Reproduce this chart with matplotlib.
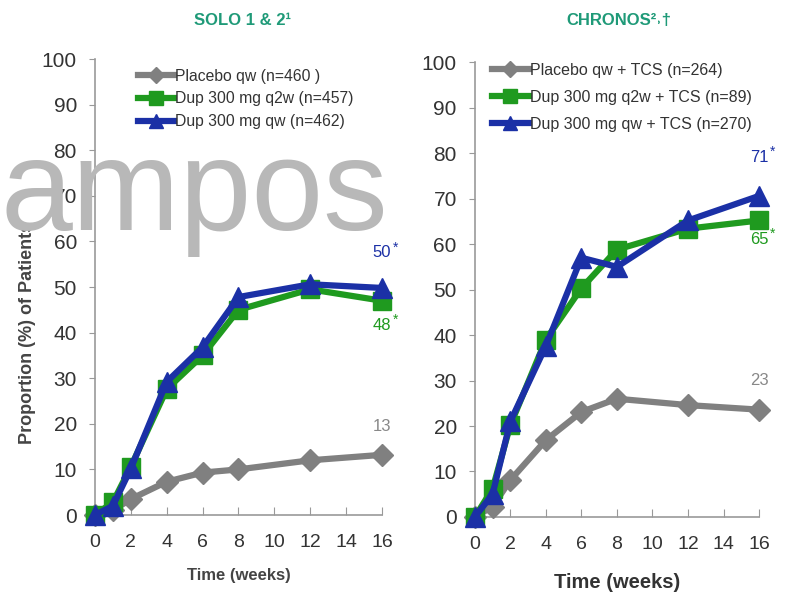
import matplotlib
matplotlib.use("Agg")
import matplotlib.pyplot as plt

plt.rcParams['font.family'] = ['Liberation Sans Narrow', 'Liberation Sans', 'DejaVu Sans']

# dados
semanas = [0, 1, 2, 4, 6, 8, 12, 16]

solo_placebo = [0, 1, 3.5, 7.3, 9.3, 10, 12, 13.2]
solo_q2w = [0, 2.8, 10.6, 27.6, 35, 45, 49.5, 47]
solo_qw = [0, 2, 10.2, 29.2, 36.8, 47.8, 50.6, 49.8]

chronos_placebo = [0, 2.3, 8.1, 16.9, 23.1, 26, 24.6, 23.6]
chronos_q2w = [0, 6.2, 20.2, 39, 50.3, 58.8, 63.4, 65.2]
chronos_qw = [0, 5, 21, 37.6, 57, 55, 65.2, 70.6]

solo_labels = ['Placebo qw (n=460 )', 'Dup 300 mg q2w (n=457)', 'Dup 300 mg qw (n=462)']
chronos_labels = ['Placebo qw + TCS (n=264)', 'Dup 300 mg q2w + TCS (n=89)', 'Dup 300 mg qw + TCS (n=270)']

solo_final = ['13', '48', '50']
chronos_final = ['23', '65', '71']

cinza = '#808080'
verde = '#1f9a1f'
azul = '#1b30a6'
titulo_cor = '#1f9a78'

fig = plt.figure(figsize=(7.94, 5.96), dpi=100)
ax1 = fig.add_axes([0.1196, 0.1359, 0.3615, 0.765])
ax2 = fig.add_axes([0.598, 0.1326, 0.358, 0.763])


def desenhar(ax, placebo, q2w, qw, labels, leg_pos, leg_fs, leg_sp):
    estilos = [(placebo, cinza, 'D', 11), (q2w, verde, 's', 13), (qw, azul, '^', 14)]
    for (vals, cor, marc, ms), lab in zip(estilos, labels):
        ax.plot(semanas, vals, color=cor, lw=4.5, marker=marc, ms=ms,
                label=lab, clip_on=False, zorder=3)
    ax.set_xlim(0, 16)
    ax.set_ylim(0, 100)
    ax.set_xticks(range(0, 17, 2))
    ax.set_yticks(range(0, 101, 10))
    ax.spines['top'].set_visible(False)
    ax.spines['right'].set_visible(False)
    for s in ['left', 'bottom']:
        ax.spines[s].set_color('#999999')
        ax.spines[s].set_linewidth(1.2)
    ax.tick_params(axis='x', direction='in', length=6, color='#999999',
                   labelsize=14, labelcolor='#333333', pad=14)
    ax.tick_params(axis='y', direction='out', length=4, color='#999999',
                   labelsize=15, labelcolor='#333333', pad=9)
    leg = ax.legend(loc='upper left', bbox_to_anchor=leg_pos, frameon=False,
                    fontsize=leg_fs, handlelength=2.3, handletextpad=0.1,
                    labelspacing=leg_sp, markerscale=0.75)
    for t in leg.get_texts():
        t.set_color('#333333')


def rotulo(ax, x, y, txt, cor, tam=12):
    ax.annotate(txt, (x, y), ha='center', va='center', color=cor,
                fontsize=tam, annotation_clip=False)
    ax.annotate('*', (x, y), xytext=(10, 4), textcoords='offset points',
                ha='center', va='center', color=cor, fontsize=tam - 2,
                annotation_clip=False)


desenhar(ax1, solo_placebo, solo_q2w, solo_qw, solo_labels, (0.1, 1.01), 11.3, 0.5)
desenhar(ax2, chronos_placebo, chronos_q2w, chronos_qw, chronos_labels, (0.01, 1.03), 11.5, 0.75)

ax1.annotate(solo_final[0], (16, 19.5), ha='center', va='center', color='#888888', fontsize=12, annotation_clip=False)
rotulo(ax1, 16, 41.5, solo_final[1], verde)
rotulo(ax1, 16, 57.5, solo_final[2], azul)

ax2.annotate(chronos_final[0], (16, 30), ha='center', va='center', color='#888888', fontsize=12, annotation_clip=False)
rotulo(ax2, 16, 61, chronos_final[1], verde)
rotulo(ax2, 16, 79, chronos_final[2], azul)

ax1.set_ylabel('Proportion (%) of Patients', fontsize=13, fontweight='bold', color='#444444')
ax1.yaxis.set_label_coords(-0.205, 0.40)
ax1.set_xlabel('Time (weeks)', fontsize=12, fontweight='bold', color='#444444', labelpad=12)
ax2.set_xlabel('Time (weeks)', fontsize=14.5, fontweight='bold', color='#333333', labelpad=14)

fig.text(0.305, 0.965, 'SOLO 1 & 2\u00b9', ha='center', va='center', fontsize=12,
         fontweight='bold', color=titulo_cor, family=['Liberation Sans', 'DejaVu Sans'])
fig.text(0.78, 0.965, 'CHRONOS\u00b2\u02d2\u2020', ha='center', va='center', fontsize=12,
         fontweight='bold', color=titulo_cor, family=['Liberation Sans', 'DejaVu Sans'])

# marca d'água
fig.text(0.0, 1 - 230 / 596, 'ampos', ha='left', va='baseline', fontsize=93,
         color='#b8b8b8', family=['Liberation Sans', 'DejaVu Sans'], zorder=10)

fig.savefig('out.png', dpi=100)
